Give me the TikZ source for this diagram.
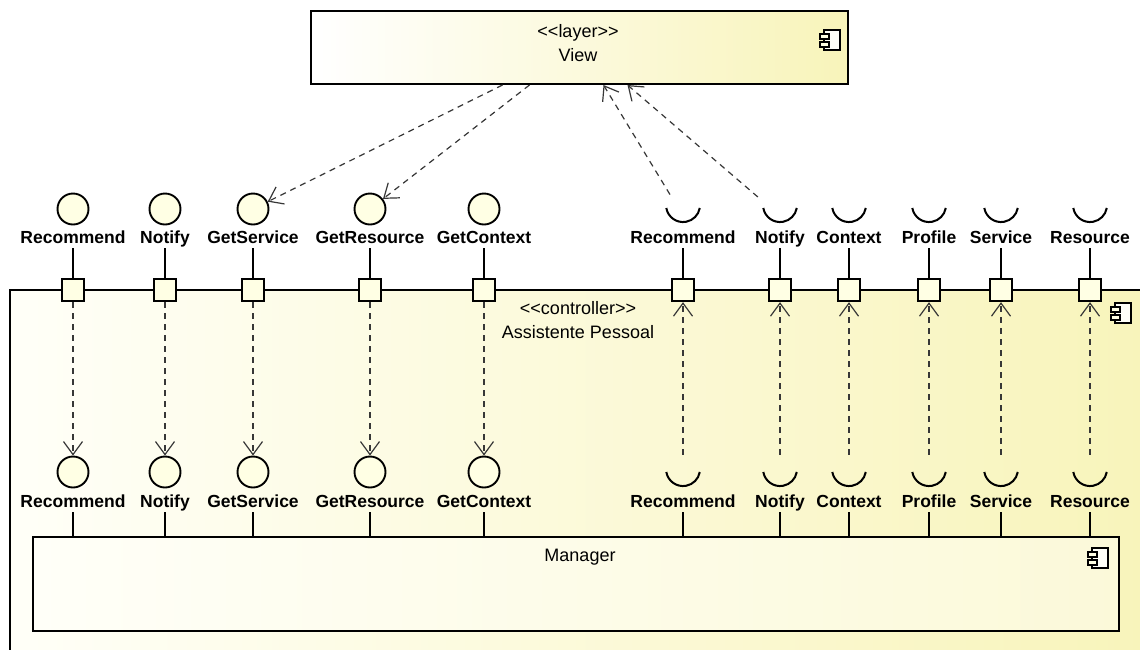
\documentclass[tikz,border=0pt]{standalone}
\usepackage{fontspec}
\setmainfont{Liberation Sans}[Ligatures=TeXOff]
\usetikzlibrary{arrows.meta,positioning}

\definecolor{cream}{RGB}{255,255,228}
\definecolor{creamlo}{RGB}{255,255,248}
\definecolor{creamhi}{RGB}{248,244,186}
\definecolor{dashgray}{RGB}{55,55,55}

\tikzset{compicon/.pic={
		\draw[line width=1.1pt,fill=creamlo] (0,0) rectangle (16,20);
		\draw[line width=1.1pt,fill=cream] (-4,4) rectangle (5,9);
		\draw[line width=1.1pt,fill=cream] (-4,12) rectangle (5,17);}}

\begin{document}
\begin{tikzpicture}[x=1pt,y=-1pt,
		comp/.style={shape=rectangle,draw,line width=2pt,left color=creamlo,right color=creamhi,inner sep=0pt},
		prov/.style={shape=circle,draw,line width=1.9pt,fill=cream,minimum size=31pt,inner sep=0pt},
		socket/.style={shape=rectangle,minimum width=36pt,minimum height=22pt,inner sep=0pt,
			path picture={\draw[line width=2pt] ([xshift=1.3pt,yshift=-3pt]path picture bounding box.north west)
				arc[start angle=190,end angle=350,radius=17pt];}},
		port/.style={shape=rectangle,draw,line width=2.3pt,fill=cream,minimum size=22pt,inner sep=0pt},
		lbl/.style={font=\bfseries\fontsize{17.5}{18}\selectfont,anchor=base,inner sep=1pt,text height=13pt,text depth=4pt},
		stereo/.style={font=\fontsize{18}{24}\selectfont,inner sep=0pt,align=center},
		stem/.style={line width=1.1pt},
		dep/.style={dash pattern=on 6pt off 5pt,line width=1.2pt,draw=dashgray,
			-{Straight Barb[length=13pt,width=19pt,line width=1.2pt]}}]
		\useasboundingbox (0,0) rectangle (1140,649);
		\clip (0,0) rectangle (1140,649);
		\fill[white] (0,0) rectangle (1140,649);

		% layer and component boxes
		\node[comp,minimum width=537pt,minimum height=73pt,left color=white] (view) at (579.5,47.5) {};
		\node[stereo] (viewtxt) at (578,43) {<<layer>>\\View};
		\pic at (824,30) {compicon};

		\node[comp,minimum width=1150pt,minimum height=390pt] (ctrl) at (585,485) {};
		\node[stereo] (ctrltxt) at (578,320) {<<controller>>\\Assistente Pessoal};
		\pic at (1115,303) {compicon};

		\node[comp,minimum width=1086pt,minimum height=94pt,right color=creamhi!55!white] (mgr) at (576,584) {};
		\node[stereo] (mgrtxt) at (580,557) {Manager};
		\pic at (1092,548) {compicon};

		% provided interfaces on top
		\node[prov] (rec) at (73,209) {};
		\node[prov] (not) at (165,209) {};
		\node[prov] (gsv) at (253,209) {};
		\node[prov] (grs) at (370,209) {};
		\node[prov] (gct) at (484,209) {};
		\node[lbl] (recl) at (73,243) {Recommend};
		\node[lbl] (notl) at (165,243) {Notify};
		\node[lbl] (gsvl) at (253,243) {GetService};
		\node[lbl] (grsl) at (370,243) {GetResource};
		\node[lbl] (gctl) at (484,243) {GetContext};

		% required interfaces on top
		\node[socket] (rrec) at (683,216) {};
		\node[socket] (rnot) at (780,216) {};
		\node[socket] (rctx) at (849,216) {};
		\node[socket] (rprf) at (929,216) {};
		\node[socket] (rsrv) at (1001,216) {};
		\node[socket] (rres) at (1090,216) {};
		\node[lbl] (rrecl) at (683,243) {Recommend};
		\node[lbl] (rnotl) at (780,243) {Notify};
		\node[lbl] (rctxl) at (849,243) {Context};
		\node[lbl] (rprfl) at (929,243) {Profile};
		\node[lbl] (rsrvl) at (1001,243) {Service};
		\node[lbl] (rresl) at (1090,243) {Resource};

		% ports
		\node[port] (recp) at (73,290) {};
		\node[port] (notp) at (165,290) {};
		\node[port] (gsvp) at (253,290) {};
		\node[port] (grsp) at (370,290) {};
		\node[port] (gctp) at (484,290) {};
		\node[port] (rrecp) at (683,290) {};
		\node[port] (rnotp) at (780,290) {};
		\node[port] (rctxp) at (849,290) {};
		\node[port] (rprfp) at (929,290) {};
		\node[port] (rsrvp) at (1001,290) {};
		\node[port] (rresp) at (1090,290) {};
		\foreach \p in {rec,not,gsv,grs,gct,rrec,rnot,rctx,rprf,rsrv,rres}
			\draw[stem] (\p l) -- (\p p);

		% interfaces of the manager
		\node[prov] (rec2) at (73,472) {};
		\node[prov] (not2) at (165,472) {};
		\node[prov] (gsv2) at (253,472) {};
		\node[prov] (grs2) at (370,472) {};
		\node[prov] (gct2) at (484,472) {};
		\node[socket] (rrec2) at (683,480) {};
		\node[socket] (rnot2) at (780,480) {};
		\node[socket] (rctx2) at (849,480) {};
		\node[socket] (rprf2) at (929,480) {};
		\node[socket] (rsrv2) at (1001,480) {};
		\node[socket] (rres2) at (1090,480) {};
		\node[lbl] (rec2l) at (73,507) {Recommend};
		\node[lbl] (not2l) at (165,507) {Notify};
		\node[lbl] (gsv2l) at (253,507) {GetService};
		\node[lbl] (grs2l) at (370,507) {GetResource};
		\node[lbl] (gct2l) at (484,507) {GetContext};
		\node[lbl] (rrec2l) at (683,507) {Recommend};
		\node[lbl] (rnot2l) at (780,507) {Notify};
		\node[lbl] (rctx2l) at (849,507) {Context};
		\node[lbl] (rprf2l) at (929,507) {Profile};
		\node[lbl] (rsrv2l) at (1001,507) {Service};
		\node[lbl] (rres2l) at (1090,507) {Resource};
		\foreach \p in {rec,not,gsv,grs,gct,rrec,rnot,rctx,rprf,rsrv,rres}
			\draw[stem] (\p 2l) -- (\p 2l |- mgr.north);

		% delegation
		\foreach \p in {rec,not,gsv,grs,gct}
			\draw[dep] (\p p) -- (\p 2);
		\foreach \p in {rrec,rnot,rctx,rprf,rsrv,rres}
			\draw[dep,shorten <=14pt] (\p 2) -- (\p p);

		% usage by the view
		\draw[dep] ([xshift=-77pt]view.south) -- (gsv);
		\draw[dep] ([xshift=-50pt]view.south) -- (grs);
		\draw[dep,shorten <=12pt] (rrec) -- ([xshift=24pt]view.south);
		\draw[dep,shorten <=12pt] (rnot) -- ([xshift=48pt]view.south);
	\end{tikzpicture}
\end{document}
